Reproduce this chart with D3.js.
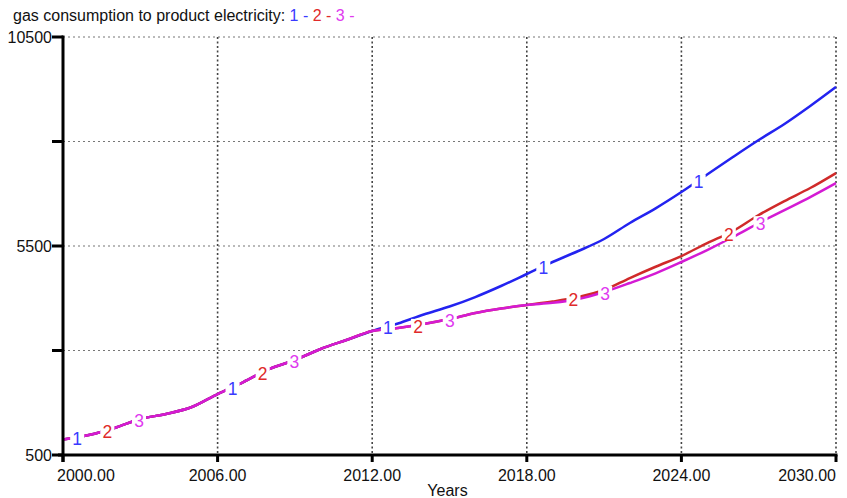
<!DOCTYPE html>
<html>
<head>
<meta charset="utf-8">
<script src="https://cdn.jsdelivr.net/npm/d3@7"></script>
<style>
  html, body { margin: 0; padding: 0; background: #fff; }
  svg { display: block; font-family: "Liberation Sans", Arial, sans-serif; }
</style>
</head>
<body>
<svg id="chart" width="847" height="498"></svg>
<script>
// Simulation output: gas consumption used to produce electricity, three runs
const years = d3.range(2000, 2031);

const run1 = [871, 978, 1146, 1361, 1481, 1648, 1959, 2246, 2557, 2772, 3036,
  3251, 3466, 3645, 3861, 4052, 4279, 4543, 4830, 5117, 5380, 5667, 6050,
  6400, 6790, 7210, 7628, 8035, 8418, 8848, 9303];

const run2 = [871, 978, 1146, 1361, 1481, 1648, 1959, 2246, 2557, 2772, 3036,
  3251, 3466, 3538, 3634, 3753, 3897, 4004, 4088, 4170, 4279, 4447, 4734,
  5004, 5260, 5571, 5858, 6241, 6576, 6887, 7245];

const run3 = [871, 978, 1146, 1361, 1481, 1648, 1959, 2246, 2557, 2772, 3036,
  3251, 3466, 3538, 3634, 3753, 3897, 4004, 4088, 4140, 4232, 4399, 4614,
  4846, 5117, 5404, 5715, 6049, 6360, 6671, 7006];

const xTicks = [2000, 2006, 2012, 2018, 2024, 2030];
const yTicks = [500, 3000, 5500, 8000, 10500];
const yLabelTicks = [500, 5500, 10500];

const titleText = "gas consumption to product electricity: ";
const runNames = ["1", "2", "3"];
const xTitle = "Years";

const series = [
  { name: "1", values: run1, line: "#2323f0", text: "#3a3aff", offset: 0.55 },
  { name: "2", values: run2, line: "#d02a2a", text: "#e02a2a", offset: 1.72 },
  { name: "3", values: run3, line: "#d41ad4", text: "#e03aef", offset: 2.95 }
];

const svg = d3.select("#chart");
const W = 847;
const plot = { left: 63, right: 836, top: 37, bottom: 455 };
const fontSize = 16;

const x = d3.scaleLinear().domain([2000, 2030]).range([plot.left, plot.right]);
const y = d3.scaleLinear().domain([500, 10500]).range([plot.bottom, plot.top]);

// grid
const grid = svg.append("g");
grid.selectAll("line.h").data(yTicks.filter(d => d !== 500)).join("line")
  .attr("x1", plot.left).attr("x2", plot.right)
  .attr("y1", d => y(d)).attr("y2", d => y(d))
  .attr("stroke", "#777").attr("stroke-width", 1.2)
  .attr("stroke-dasharray", "2,3");
grid.selectAll("line.v").data(xTicks.filter(d => d !== 2000)).join("line")
  .attr("x1", d => x(d)).attr("x2", d => x(d))
  .attr("y1", plot.top).attr("y2", plot.bottom)
  .attr("stroke", "#444").attr("stroke-width", 1.6)
  .attr("stroke-dasharray", "2,2.5");

// lines
const line = d3.line()
  .x((d, i) => x(years[i]))
  .y(d => y(d))
  .curve(d3.curveMonotoneX);

series.forEach(s => {
  svg.append("path")
    .attr("d", line(s.values))
    .attr("fill", "none")
    .attr("stroke", s.line)
    .attr("stroke-width", 2.5)
    .attr("stroke-linejoin", "round");
});

// run numbers placed along each line
const valueAt = (vals, yr) => {
  const i = Math.min(Math.floor(yr - 2000), vals.length - 2);
  const t = yr - 2000 - i;
  return vals[i] + (vals[i + 1] - vals[i]) * t;
};
const markers = svg.append("g");
series.forEach(s => {
  for (let k = 0; k < 5; k++) {
    const yr = 2000 + s.offset + 6.03 * k;
    if (yr > 2030) continue;
    const px = x(yr), py = y(valueAt(s.values, yr));
    markers.append("rect")
      .attr("x", px - 7).attr("y", py - 6)
      .attr("width", 14).attr("height", 14)
      .attr("fill", "#fff");
    markers.append("text")
      .attr("x", px).attr("y", py + 8)
      .attr("text-anchor", "middle")
      .attr("font-size", 17.5)
      .attr("fill", s.text)
      .text(s.name);
  }
});

// axes
const axes = svg.append("g").attr("stroke", "#000").attr("stroke-width", 3);
axes.append("line").attr("x1", plot.left).attr("x2", plot.left)
  .attr("y1", plot.top - 1.5).attr("y2", plot.bottom + 7);
axes.append("line").attr("x1", plot.left - 5).attr("x2", plot.right + 1.5)
  .attr("y1", plot.bottom).attr("y2", plot.bottom);
axes.selectAll("line.yt").data(yTicks).join("line")
  .attr("x1", plot.left - 11).attr("x2", plot.left)
  .attr("y1", d => y(d)).attr("y2", d => y(d));
axes.selectAll("line.xt").data(xTicks).join("line")
  .attr("x1", d => x(d)).attr("x2", d => x(d))
  .attr("y1", plot.bottom).attr("y2", plot.bottom + 7);

// tick labels
svg.append("g").selectAll("text").data(yLabelTicks).join("text")
  .attr("x", plot.left - 11).attr("y", d => y(d) + 5.5)
  .attr("text-anchor", "end")
  .attr("font-size", fontSize)
  .attr("fill", "#111")
  .text(d => d);
svg.append("g").selectAll("text").data(xTicks).join("text")
  .attr("x", (d, i) => i === 0 ? x(d) - 6 : Math.min(x(d), W - 4))
  .attr("y", plot.bottom + 26)
  .attr("text-anchor", (d, i) => i === 0 ? "start" : (x(d) > W - 40 ? "end" : "middle"))
  .attr("font-size", fontSize)
  .attr("fill", "#111")
  .text(d => d.toFixed(2));

svg.append("text")
  .attr("x", (plot.left + plot.right) / 2 - 2).attr("y", 496)
  .attr("text-anchor", "middle")
  .attr("font-size", fontSize)
  .attr("fill", "#111")
  .text(xTitle);

// title with run legend
const title = svg.append("text")
  .attr("x", 13).attr("y", 21)
  .attr("font-size", fontSize)
  .attr("fill", "#111");
title.append("tspan").text(titleText);
series.forEach((s, i) => {
  title.append("tspan").attr("fill", s.text).text(runNames[i] + " - ");
});
</script>
</body>
</html>
